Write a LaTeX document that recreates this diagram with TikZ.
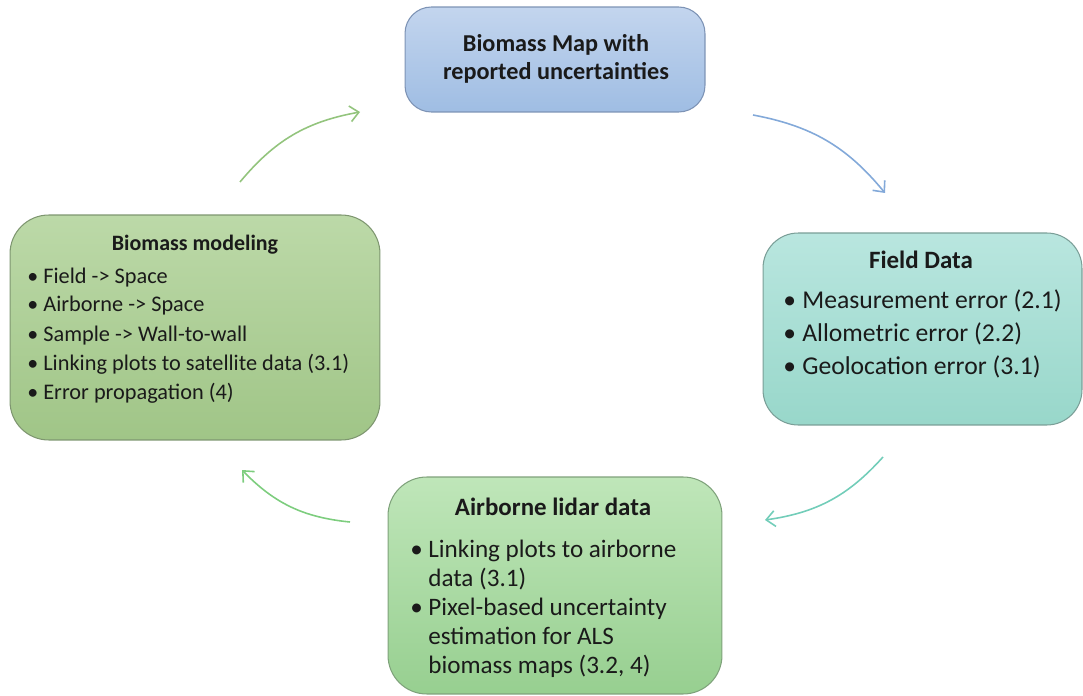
\documentclass[tikz,border=0pt]{standalone}
\usepackage{fontspec}
\setmainfont{Carlito}
\usetikzlibrary{arrows.meta}
\definecolor{txt}{HTML}{1A1A1A}
\definecolor{topA}{HTML}{C3D5EE}\definecolor{topB}{HTML}{9FBDE3}\definecolor{topD}{HTML}{7D93B5}
\definecolor{lefA}{HTML}{BCD9A8}\definecolor{lefB}{HTML}{A0C587}\definecolor{lefD}{HTML}{7E9670}
\definecolor{rigA}{HTML}{B9E6DF}\definecolor{rigB}{HTML}{98D7CA}\definecolor{rigD}{HTML}{7A9E97}
\definecolor{botA}{HTML}{BFE6B9}\definecolor{botB}{HTML}{97CF90}\definecolor{botD}{HTML}{7FA27B}
\definecolor{arA}{HTML}{93C47D}\definecolor{arB}{HTML}{83A9D9}\definecolor{arC}{HTML}{72CDB9}\definecolor{arD}{HTML}{7DCD7E}
\tikzset{
  box/.style={draw, line width=0.6pt, inner sep=0pt},
  ttl/.style={anchor=base, inner sep=0pt, text=txt, font=\bfseries\fontsize{#1}{#1}\selectfont},
  itm/.style={anchor=base west, inner sep=0pt, text=txt, font=\fontsize{#1}{#1}\selectfont},
  cyc/.style={line width=0.9pt, -{Straight Barb[length=5pt,width=9pt,line width=0.9pt]}, bend left=20}
}
\begin{document}
\begin{tikzpicture}[x=0.02cm,y=-0.02cm]
\useasboundingbox (0,0) rectangle (1083,696);
\clip (0,0) rectangle (1083,696);
% boxes
\node[box, draw=topD, top color=topA, bottom color=topB, rounded corners=15pt,
      minimum width=6cm, minimum height=2.1cm] (map) at (555,59.5) {};
\node[box, draw=lefD, top color=lefA, bottom color=lefB, rounded corners=22pt,
      minimum width=7.4cm, minimum height=4.5cm] (model) at (195,327.5) {};
\node[box, draw=rigD, top color=rigA, bottom color=rigB, rounded corners=20pt,
      minimum width=6.38cm, minimum height=3.84cm] (field) at (922.5,329) {};
\node[box, draw=botD, top color=botA, bottom color=botB, rounded corners=22pt,
      minimum width=6.68cm, minimum height=4.34cm] (lidar) at (555,585.5) {};
% top box text
\node[ttl=13.8] (mapA) at (556,52) {Biomass Map with};
\node[ttl=13.8] (mapB) at (556,80) {reported uncertainties};
% left box text
\node[ttl=12.5] (modT) at (195,251) {Biomass modeling};
\foreach \y/\t [count=\i] in {283/{Field -> Space},312/{Airborne -> Space},341/{Sample -> Wall-to-wall},370/{Linking plots to satellite data (3.1)},399/{Error propagation (4)}}{
  \node[itm=12.5] (modb\i) at (27,\y) {\textbullet};
  \node[itm=12.7] (mod\i) at (43,\y) {\t};
}
% right box text
\node[ttl=14.2] (fldT) at (921,269) {Field Data};
\foreach \y/\t [count=\i] in {308/{Measurement error (2.1)},341/{Allometric error (2.2)},374/{Geolocation error (3.1)}}{
  \node[itm=14.5] (fldb\i) at (783,\y) {\textbullet};
  \node[itm=14.6] (fld\i) at (802,\y) {\t};
}
% bottom box text
\node[ttl=14.2] (lidT) at (553,515) {Airborne lidar data};
\node[itm=14.3] (lidb1) at (410,557) {\textbullet};
\node[itm=14.3] (lid1) at (428,557) {Linking plots to airborne};
\node[itm=14.3] (lid2) at (428,586) {data (3.1)};
\node[itm=14.3] (lidb2) at (410,615) {\textbullet};
\node[itm=14.3] (lid3) at (428,615) {Pixel-based uncertainty};
\node[itm=14.3] (lid4) at (428,644) {estimation for ALS};
\node[itm=14.3] (lid5) at (428,673) {biomass maps (3.2, 4)};
% cycle arrows
\coordinate (a1s) at (240,182); \coordinate (a1e) at (360,112);
\coordinate (a2s) at (753,115); \coordinate (a2e) at (885,193);
\coordinate (a3s) at (883,457); \coordinate (a3e) at (765,520);
\coordinate (a4s) at (350,522); \coordinate (a4e) at (242,470);
\draw[cyc, draw=arA] (a1s) to (a1e);
\draw[cyc, draw=arB] (a2s) to (a2e);
\draw[cyc, draw=arC] (a3s) to (a3e);
\draw[cyc, draw=arD] (a4s) to (a4e);
\end{tikzpicture}
\end{document}
